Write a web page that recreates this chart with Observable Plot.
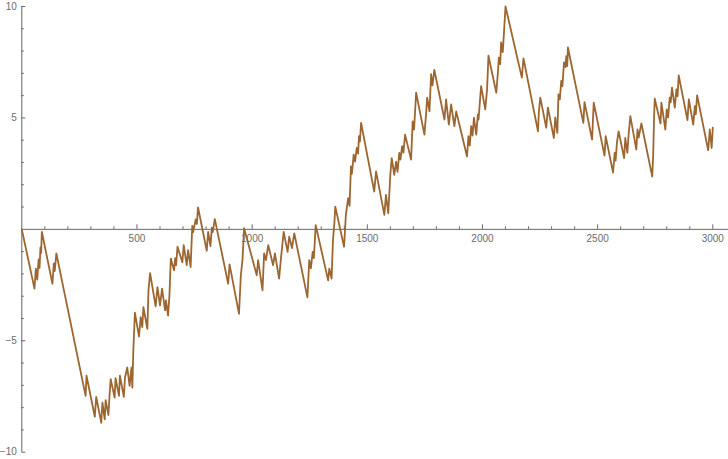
<!DOCTYPE html>
<html>
<head>
<meta charset="utf-8">
<script src="https://cdn.jsdelivr.net/npm/d3@7"></script>
<script src="https://cdn.jsdelivr.net/npm/@observablehq/plot@0.6"></script>
<style>
  html, body { margin: 0; padding: 0; background: #ffffff; }
  #chart svg { display: block; }
</style>
</head>
<body>
<div id="chart"></div>
<script>
// ---- data ----
const stepX = [
  0,55,61,67,73,77,81,84,87,133,
  139,143,150,277,281,317,323,345,350,360,
  364,376,381,386,403,407,422,426,443,448,
  458,468,476,480,484,491,509,516,523,528,
  545,550,557,581,589,600,609,622,626,635,
  641,647,661,666,670,676,697,703,716,722,
  733,740,744,755,760,765,803,809,819,825,
  829,838,896,902,943,951,958,965,1020,1026,
  1045,1052,1060,1070,1091,1099,1117,1125,1137,1154,
  1161,1173,1183,1240,1248,1255,1263,1268,1276,1330,
  1335,1345,1351,1357,1361,1399,1407,1417,1423,1429,
  1433,1441,1447,1454,1460,1464,1468,1473,1530,1538,
  1574,1581,1591,1600,1606,1617,1625,1631,1639,1644,
  1651,1657,1664,1690,1697,1703,1712,1748,1755,1760,
  1770,1777,1783,1791,1835,1842,1854,1864,1878,1886,
  1933,1939,1945,1951,1957,1963,1973,1980,1983,1994,
  2012,2020,2026,2060,2067,2071,2077,2081,2088,2093,
  2100,2171,2178,2241,2245,2251,2277,2284,2310,2316,
  2325,2330,2336,2342,2347,2354,2360,2364,2368,2371,
  2438,2443,2476,2483,2530,2535,2567,2574,2578,2584,
  2591,2615,2620,2629,2635,2642,2668,2673,2678,2690,
  2737,2741,2745,2748,2773,2777,2794,2800,2806,2813,
  2817,2823,2835,2842,2847,2852,2890,2896,2915,2922,
  2926,2932,2980,2987,2995,3000
];
const walkY = [
  0,-2.66,-1.76,-2.26,-1.35,-1.73,-0.81,-1.06,-0.11,-2.44,
  -1.53,-1.87,-1.08,-7.47,-6.57,-8.41,-7.52,-8.68,-7.78,-8.53,
  -7.66,-8.33,-7.43,-6.72,-7.55,-6.68,-7.47,-6.57,-7.52,-6.65,
  -6.20,-7.02,-6.20,-7.10,-5.49,-3.74,-4.81,-3.94,-4.39,-3.49,
  -4.47,-2.74,-1.96,-3.46,-2.59,-3.41,-2.66,-3.64,-3.19,-3.87,
  -2.96,-1.31,-1.84,-1.29,-1.61,-0.78,-1.48,-0.71,-1.61,-0.93,
  -1.69,0.15,-0.12,0.45,0.24,0.99,-0.96,-0.11,-0.75,0.08,
  -0.12,0.46,-2.44,-1.57,-3.79,-2.06,-1.38,0.05,-2.06,-1.38,
  -2.74,-1.08,-1.38,-0.71,-1.61,-1.08,-2.21,-1.31,-0.11,-1.01,
  -0.33,-0.84,-0.18,-3.05,-1.38,-1.75,-1.01,-1.29,0.19,-2.29,
  -1.76,-2.21,-0.48,0.27,1.02,-0.78,0.65,1.40,1.05,2.82,
  2.49,3.35,3.04,3.65,3.40,4.18,3.94,4.78,1.70,2.60,
  0.65,1.55,0.72,2.45,3.20,2.45,3.04,2.58,3.43,3.13,
  3.73,3.44,4.25,3.13,4.84,4.48,6.13,4.25,5.16,5.91,
  5.30,6.96,6.46,7.15,4.93,5.83,4.70,5.61,4.63,5.29,
  3.27,4.18,3.76,4.63,4.21,5.01,4.25,5.16,4.93,6.43,
  5.38,6.28,7.79,6.13,7.04,7.71,7.41,8.39,7.95,8.76,
  10.0,6.81,7.67,4.40,5.30,5.91,4.56,5.46,4.10,5.02,
  4.33,6.06,5.83,6.66,6.42,7.49,7.28,7.77,7.32,8.16,
  4.78,5.71,4.03,5.68,3.31,4.18,2.55,3.43,3.08,3.91,
  4.40,3.20,4.10,3.43,4.30,5.08,3.58,4.48,4.12,4.75,
  2.37,3.27,5.01,5.86,4.75,5.68,4.48,5.38,5.02,5.91,
  5.70,6.36,5.46,6.28,5.97,6.91,4.90,5.83,4.70,5.53,
  5.16,6.01,3.55,4.48,3.65,4.56
];

const xMajorTicks = [500, 1000, 1500, 2000, 2500, 3000];
const xMajorLabels = ["500", "1000", "1500", "2000", "2500", "3000"];
const xMinorTicks = [100,200,300,400,600,700,800,900,1100,1200,1300,1400,1600,1700,1800,1900,
                     2100,2200,2300,2400,2600,2700,2800,2900];
const yMajorTicks = [-10, -5, 5, 10];
const yMajorLabels = ["\u221210", "\u22125", "5", "10"];
const yMinorTicks = [-9,-8,-7,-6,-4,-3,-2,-1,1,2,3,4,6,7,8,9];
const xAxisExtent = [0, 3068];
const yAxisExtent = [-10, 10];

// ---- build table ----
const walk = stepX.map((x, i) => ({x, y: walkY[i]}));

const axisColor = "#666666";
const labelColor = "#6b6b6b";
const lineColor = "#9c6630";

const chart = Plot.plot({
  width: 728,
  height: 459,
  marginLeft: 21.3,
  marginRight: 15.7,
  marginTop: 6,
  marginBottom: 7.3,
  style: {fontFamily: "'Liberation Sans', Arial, sans-serif", background: "#ffffff"},
  x: {domain: [0, 3000], axis: null},
  y: {domain: [-10, 10], axis: null},
  marks: [
    // axis lines crossing at the origin
    Plot.ruleY([0], {x1: xAxisExtent[0], x2: xAxisExtent[1], stroke: axisColor, strokeWidth: 1}),
    Plot.ruleX([0], {y1: yAxisExtent[0], y2: yAxisExtent[1], stroke: axisColor, strokeWidth: 1}),
    // x ticks (pointing up)
    Plot.ruleX(xMajorTicks, {x: d => d, y1: 0, y2: 0, insetTop: -4.5, stroke: axisColor}),
    Plot.ruleX(xMinorTicks, {x: d => d, y1: 0, y2: 0, insetTop: -2.5, stroke: axisColor}),
    // y ticks (pointing right)
    Plot.ruleY(yMajorTicks, {y: d => d, x1: 0, x2: 0, insetRight: -4, stroke: axisColor}),
    Plot.ruleY(yMinorTicks, {y: d => d, x1: 0, x2: 0, insetRight: -2.5, stroke: axisColor}),
    // tick labels
    Plot.text(xMajorTicks, {
      x: d => d, y: 0, text: (d, i) => xMajorLabels[i],
      dy: 9, fontSize: 10, fill: labelColor, textAnchor: "middle", lineAnchor: "middle"
    }),
    Plot.text(yMajorTicks, {
      x: 0, y: d => d, text: (d, i) => yMajorLabels[i],
      dx: -5, fontSize: 10, fill: labelColor, textAnchor: "end", lineAnchor: "middle"
    }),
    // the series
    Plot.line(walk, {x: "x", y: "y", stroke: lineColor, strokeWidth: 1.8, strokeLinejoin: "round"})
  ]
});

document.getElementById("chart").appendChild(chart);
</script>
</body>
</html>
